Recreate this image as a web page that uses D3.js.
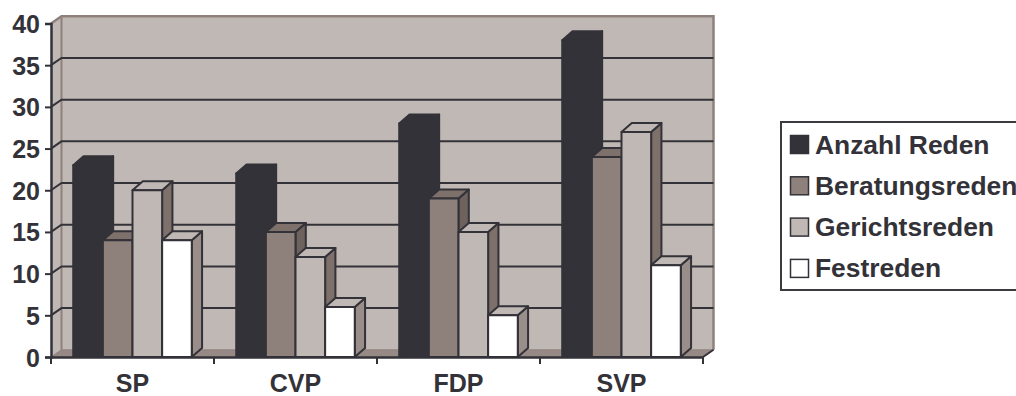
<!DOCTYPE html>
<html><head><meta charset="utf-8">
<script src="https://cdn.jsdelivr.net/npm/d3@7/dist/d3.min.js"></script>
<style>body{margin:0;background:#fff}svg{display:block}</style>
</head><body>
<script>
const categories = ["SP", "CVP", "FDP", "SVP"];
const seriesNames = ["Anzahl Reden", "Beratungsreden", "Gerichtsreden", "Festreden"];
const anzahlReden = [23, 22, 28, 38];
const beratungsreden = [14, 15, 19, 24];
const gerichtsreden = [20, 12, 15, 27];
const festreden = [14, 6, 5, 11];
const yTicks = [0, 5, 10, 15, 20, 25, 30, 35, 40];
const seriesValues = [anzahlReden, beratungsreden, gerichtsreden, festreden];

const W = 1016, H = 396;
const ink = "#333238";
const fronts = ["#333238", "#8e817c", "#c0b8b5", "#ffffff"];
const tops   = ["#333238", "#7e716c", "#c0b8b5", "#c0b8b5"];
const sides  = ["#333238", "#6e625e", "#7e716c", "#9a8e8a"];
const wallC = "#c0b8b5", edgeC = "#8e817c";
const font = "Liberation Sans, Arial, sans-serif";

const svg = d3.select("body").append("svg").attr("width", W).attr("height", H);
const x = d3.scaleBand().domain(categories).range([51, 703]).paddingInner(0).paddingOuter(0);
const xi = d3.scaleBand().domain(seriesNames).range([0, x.bandwidth()]).paddingInner(0).paddingOuter(0.75);
const y = d3.scaleLinear().domain([0, 40]).range([357, 23.5]);
const dxW = 10.5, dyW = -7.2, dxB = 10.3, dyB = -9;
const x0 = x.range()[0], x1 = x.range()[1];
const yTop = y(40), yBot = y(0);

// walls
svg.append("polygon").attr("points", [[x0+dxW, yTop+dyW],[x1+dxW, yTop+dyW],[x1+dxW, yBot+dyW],[x0+dxW, yBot+dyW]].join(" ")).attr("fill", wallC);
svg.append("polygon").attr("points", [[x0, yTop],[x0+dxW, yTop+dyW],[x0+dxW, yBot+dyW],[x0, yBot]].join(" ")).attr("fill", wallC);
// floor
svg.append("polygon").attr("points", [[x0, yBot],[x1, yBot],[x1+dxW, yBot+dyW],[x0+dxW, yBot+dyW]].join(" ")).attr("fill", "#978a86").attr("stroke", edgeC).attr("stroke-width", 1);
// wall edges
svg.append("path").attr("d", `M${x0},${yTop}L${x0+dxW},${yTop+dyW}L${x1+dxW},${yTop+dyW}L${x1+dxW},${yBot+dyW}`).attr("fill","none").attr("stroke", edgeC).attr("stroke-width", 2.5);
svg.append("line").attr("x1", x0+dxW).attr("x2", x0+dxW).attr("y1", yTop+dyW).attr("y2", yBot+dyW).attr("stroke", edgeC).attr("stroke-width", 2);
// gridlines
yTicks.filter(t => t > 0 && t < 40).forEach(t => {
  svg.append("path").attr("d", `M${x0},${y(t)}L${x0+dxW},${y(t)+dyW}L${x1+dxW},${y(t)+dyW}`)
    .attr("fill","none").attr("stroke", ink).attr("stroke-width", 2);
});
svg.append("line").attr("x1", x1).attr("x2", x1+dxW).attr("y1", yBot).attr("y2", yBot+dyW).attr("stroke", ink).attr("stroke-width", 2);

// bars
categories.forEach((c, ci) => {
  seriesNames.forEach((s, si) => {
    const v = seriesValues[si][ci];
    const bx = x(c) + xi(s), bw = xi.bandwidth();
    const ty = y(v), by = y(0);
    const g = svg.append("g").attr("stroke", si === 0 ? fronts[0] : ink).attr("stroke-width", 2).attr("stroke-linejoin", "round");
    g.append("polygon").attr("points", [[bx+bw, ty],[bx+bw+dxB, ty+dyB],[bx+bw+dxB, by+dyB],[bx+bw, by]].join(" ")).attr("fill", sides[si]);
    g.append("polygon").attr("points", [[bx, ty],[bx+dxB, ty+dyB],[bx+bw+dxB, ty+dyB],[bx+bw, ty]].join(" ")).attr("fill", tops[si]);
    g.append("rect").attr("x", bx).attr("y", ty).attr("width", bw).attr("height", by - ty).attr("fill", fronts[si]);
  });
});

// axes
const yAxis = d3.axisLeft(y).tickValues(yTicks).tickSize(6).tickPadding(5).tickFormat(d3.format("d"));
const ya = svg.append("g").attr("transform", `translate(${x0},0)`).call(yAxis);
ya.select(".domain").attr("stroke", ink).attr("stroke-width", 2.5);
ya.selectAll(".tick line").attr("stroke", ink).attr("stroke-width", 2);
ya.selectAll(".tick text").attr("fill", ink).attr("font-family", font).attr("font-weight", "bold").attr("font-size", 25).attr("dy", "0.36em");

const xAxis = d3.axisBottom(x).tickSize(0).tickPadding(0);
const xa = svg.append("g").attr("transform", `translate(0,${yBot})`).call(xAxis);
xa.select(".domain").attr("stroke", ink).attr("stroke-width", 2.5);
xa.selectAll(".tick text").attr("fill", ink).attr("font-family", font).attr("font-weight", "bold").attr("font-size", 25).attr("dy", null).attr("y", 35);
// category boundary ticks
const bounds = categories.map(c => x(c)).concat([x1]);
svg.append("g").selectAll("line").data(bounds).join("line")
  .attr("x1", d => d).attr("x2", d => d).attr("y1", yBot).attr("y2", yBot + 7).attr("stroke", ink).attr("stroke-width", 2);

// legend
const lg = svg.append("g");
lg.append("rect").attr("x", 781).attr("y", 122).attr("width", 260).attr("height", 168).attr("fill", "#fff").attr("stroke", "#3c3b40").attr("stroke-width", 2);
seriesNames.forEach((s, i) => {
  const base = 153.5 + i * 41.3;
  lg.append("rect").attr("x", 790.5).attr("y", base - 18).attr("width", 18).attr("height", 18).attr("fill", fronts[i]).attr("stroke", ink).attr("stroke-width", 1.5);
  lg.append("text").attr("x", 815).attr("y", base).text(s).attr("fill", ink).attr("font-family", font).attr("font-weight", "bold").attr("font-size", 26.4);
});
</script>
</body></html>
